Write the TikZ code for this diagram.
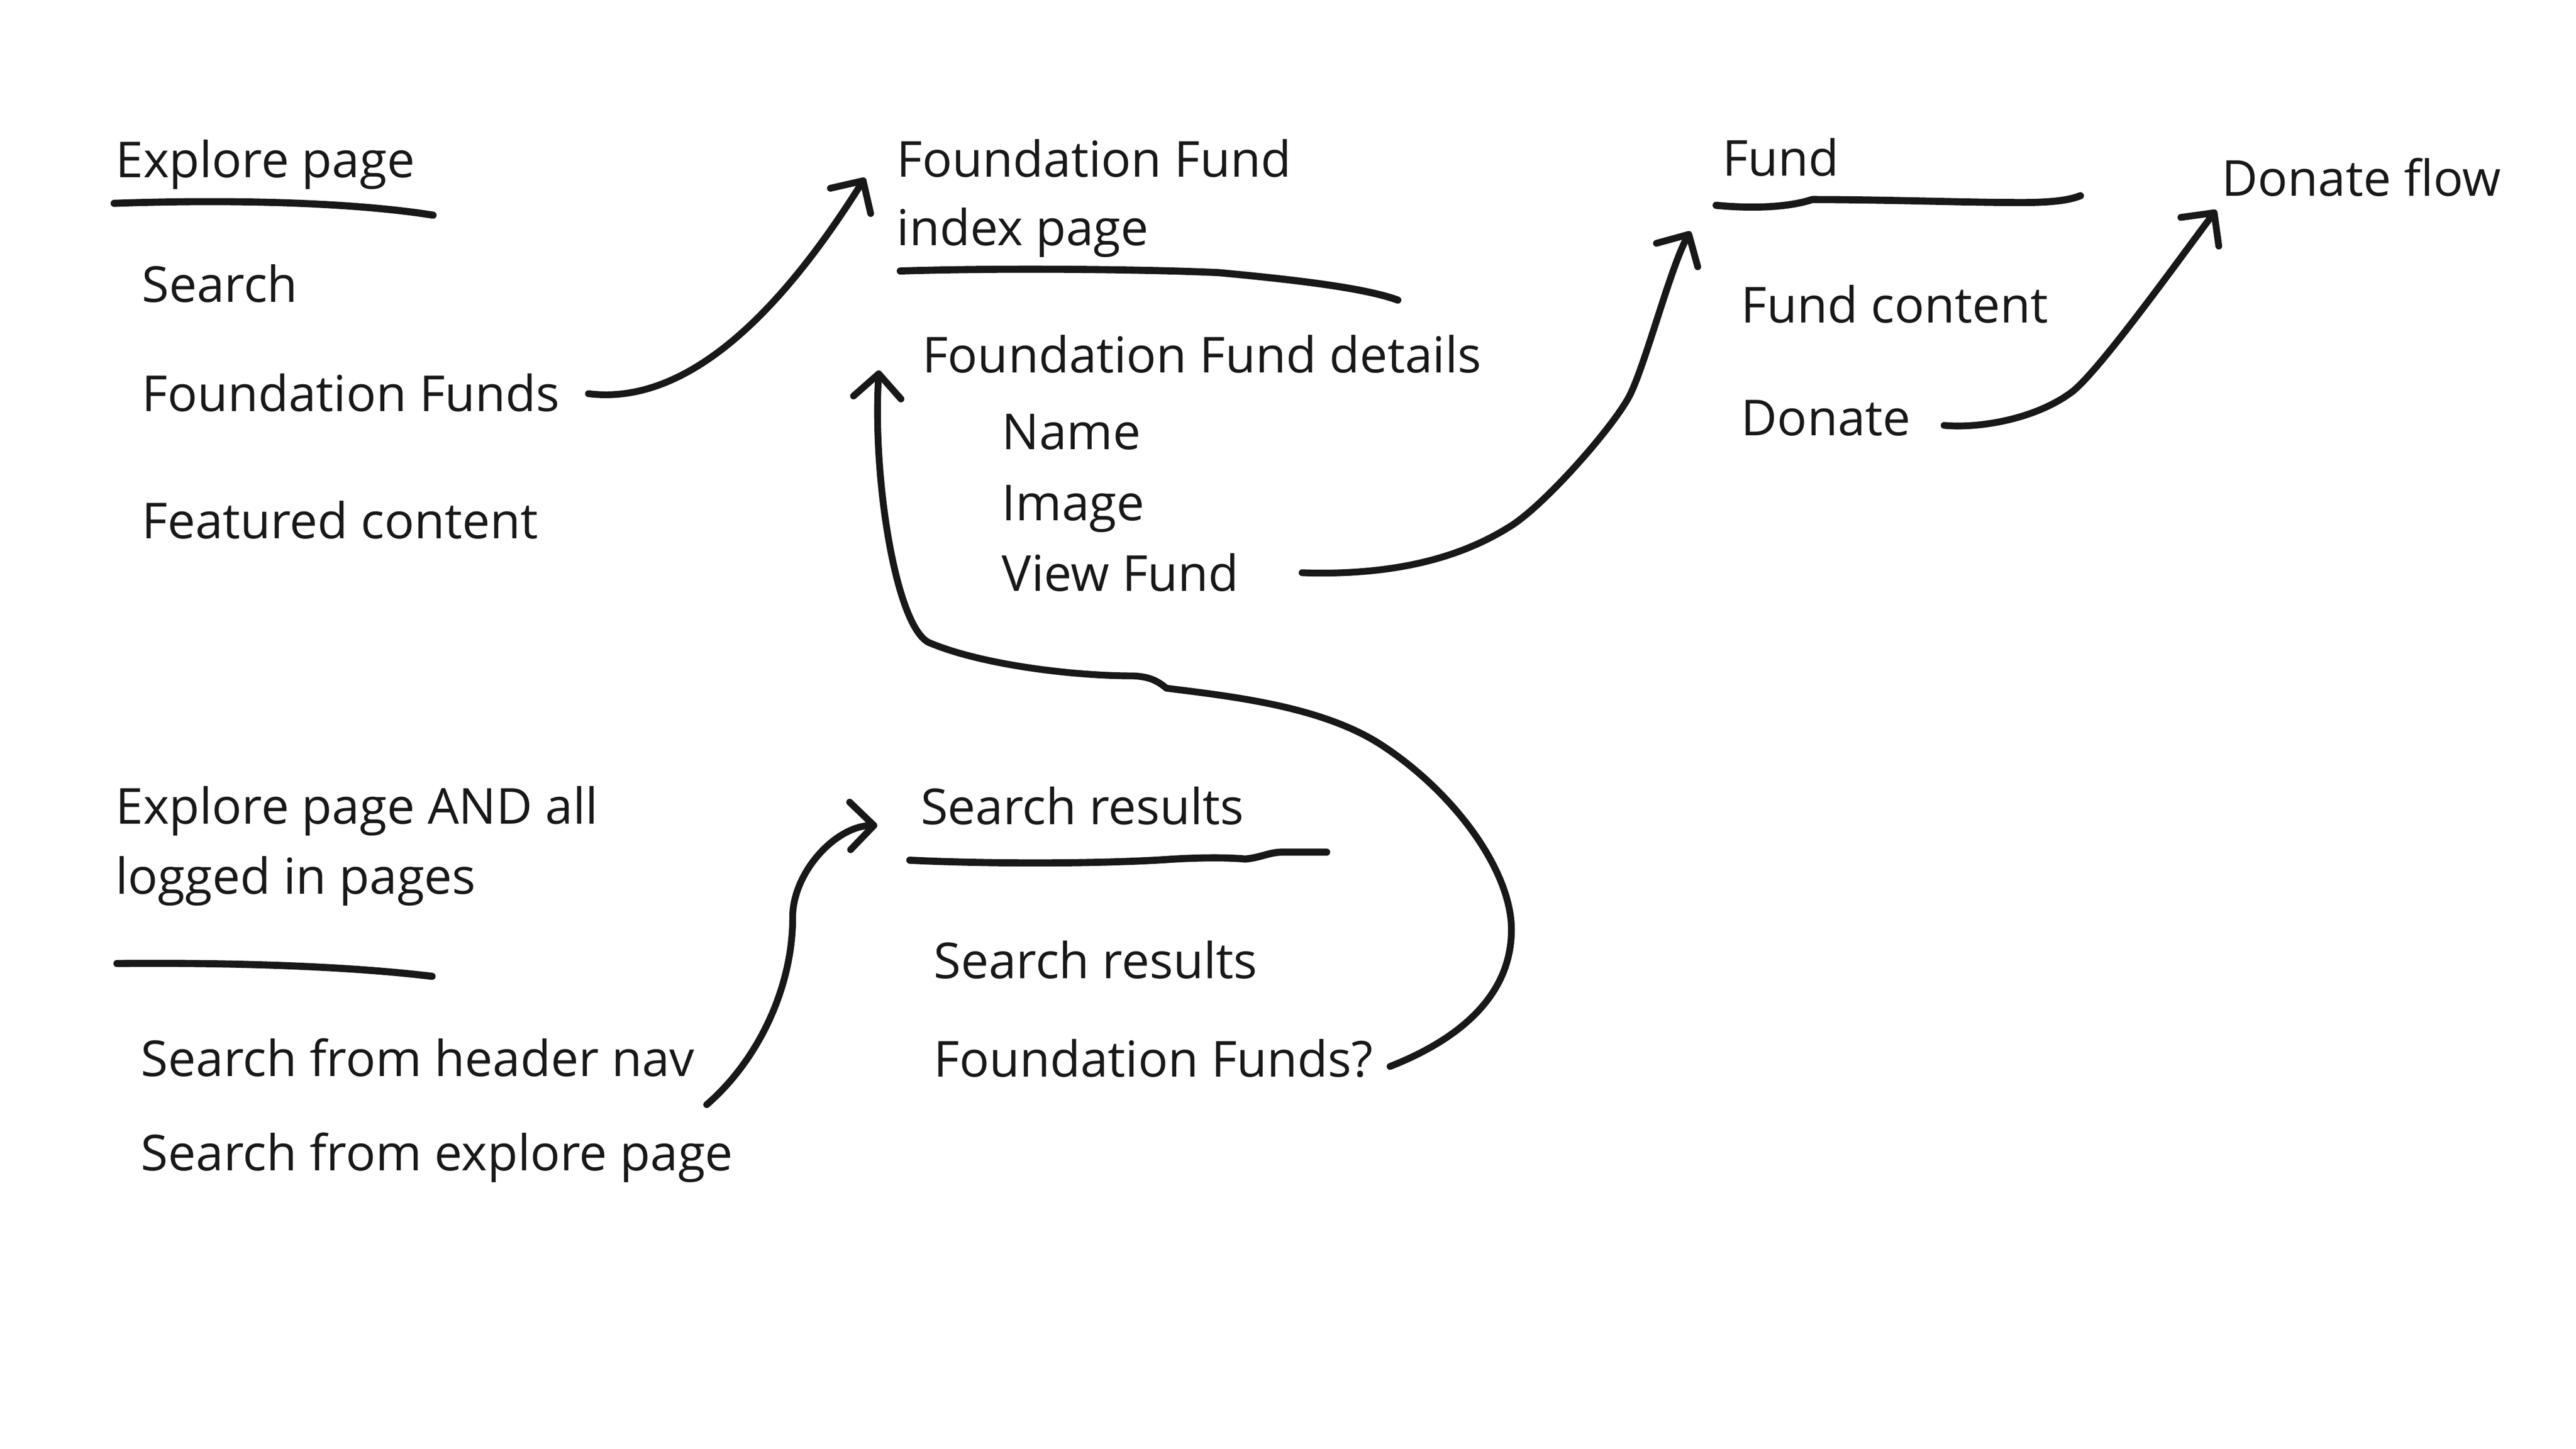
\documentclass[tikz,border=0pt]{standalone}
\usepackage{fontspec}
\setmainfont{Open Sans}
\usepackage{xcolor}
\usepackage{tikz}
\usetikzlibrary{arrows.meta, calc}
\definecolor{inkblack}{RGB}{24,24,24}

\begin{document}
\begin{tikzpicture}[x=0.017013cm, y=-0.017013cm,
  entry/.style={anchor=base west, inner sep=0pt, text=inkblack, font=\fontsize{14.6}{17}\selectfont},
  stroke/.style={draw=inkblack, line width=2.1pt, line cap=round, line join=round},
  flow/.style={stroke, line width=2pt, -{Straight Barb[length=7pt, width=14pt, round]}}]
\useasboundingbox (0,0) rectangle (1568,882);
\fill[white] (0,0) rectangle (1568,882);

% Explore page
\node[entry] (explore) at (70,108) {Explore page};
\node[entry] (search) at (86,184) {Search};
\node[entry] (ffunds) at (86,250.5) {Foundation Funds};
\node[entry] (featured) at (86,328) {Featured content};
\draw[stroke] (69.5,123.8) .. controls (150,121) and (220,124) .. (263.6,131);

% Foundation Fund index page
\node[entry] (ffindex) at (545.5,107.6) {Foundation Fund};
\node[entry] (ffindexb) at (545.5,149.5) {index page};
\node[entry] (ffdetails) at (561,226.8) {Foundation Fund details};
\node[entry] (fname) at (609.5,273.6) {Name};
\node[entry] (fimage) at (609.5,316.8) {Image};
\node[entry] (viewfund) at (609.5,360) {View Fund};
\draw[stroke] (548,165) .. controls (610,163) and (700,164) .. (742,166)
  .. controls (785,170) and (830,175) .. (850.8,182.7);

% Fund and donate flow
\node[entry] (fund) at (1048,107.2) {Fund};
\node[entry] (fundcontent) at (1059.5,196.6) {Fund content};
\node[entry] (donate) at (1059.5,265.1) {Donate};
\node[entry] (donflow) at (1352,119.2) {Donate flow};
\draw[stroke] (1044.6,125) .. controls (1065,127) and (1088,126.5) .. (1103,121.5)
  .. controls (1150,121.5) and (1200,123.5) .. (1235,123.3)
  .. controls (1250,123) and (1259,122) .. (1266.3,119.2);

% Logged in pages
\node[entry] (exploreall) at (70,501.7) {Explore page AND all};
\node[entry] (loggedin) at (70,544.4) {logged in pages};
\node[entry] (headernav) at (85.5,655.3) {Search from header nav};
\node[entry] (explorepage) at (85.5,712.6) {Search from explore page};
\draw[stroke] (71.2,586.6) .. controls (140,586) and (210,588) .. (263,594.4);

% Search results
\node[entry] (results) at (560,501.8) {Search results};
\node[entry] (resultsitem) at (568,595.6) {Search results};
\node[entry] (ffq) at (568,655.5) {Foundation Funds?};
\draw[stroke] (553.8,523.7) .. controls (600,526) and (670,526) .. (711.6,523.2)
  .. controls (730,522) and (748,522) .. (758,523)
  .. controls (768,522) and (772,519) .. (780,518.8) -- (807.5,518.8);

% Arrows
\draw[flow] ($(ffunds.east)+(17,0.5)$) .. controls (425,248) and (484,176) .. ($(ffindex.south west)+(-19,0)$);
\draw[flow] ($(viewfund.east)+(38,0)$) .. controls (860,351) and (898,334) .. (920,320)
  .. controls (941,306.5) and (981,261) .. (991.5,241.7)
  .. controls (1001,224) and (1017,162) .. ($(fund.south west)+(-19,33)$);
\draw[flow] ($(donate.east)+(20,4.5)$) .. controls (1205,261) and (1240,255) .. (1262,238)
  .. controls (1280,223) and (1328.8,154.6) .. ($(donflow.south west)+(-3,8)$);
\draw[flow] ($(headernav.south east)+(7,16.5)$) .. controls (462,645) and (483,600) .. (482.5,557)
  .. controls (483.5,530) and (509,503) .. ($(results.south west)+(-26,0)$);
\draw[flow] ($(ffq.east)+(10,5)$) .. controls (890,632) and (920,605) .. (920,566)
  .. controls (920,530) and (885,482) .. (840,453)
  .. controls (804,430) and (750,424) .. (710,419)
  .. controls (704,414) and (699,412) .. (690,411.5)
  .. controls (650,411.5) and (595,404) .. (565,391)
  .. controls (545,380) and (531,290) .. ($(ffdetails.south west)+(-26,-2)$);
\end{tikzpicture}
\end{document}
